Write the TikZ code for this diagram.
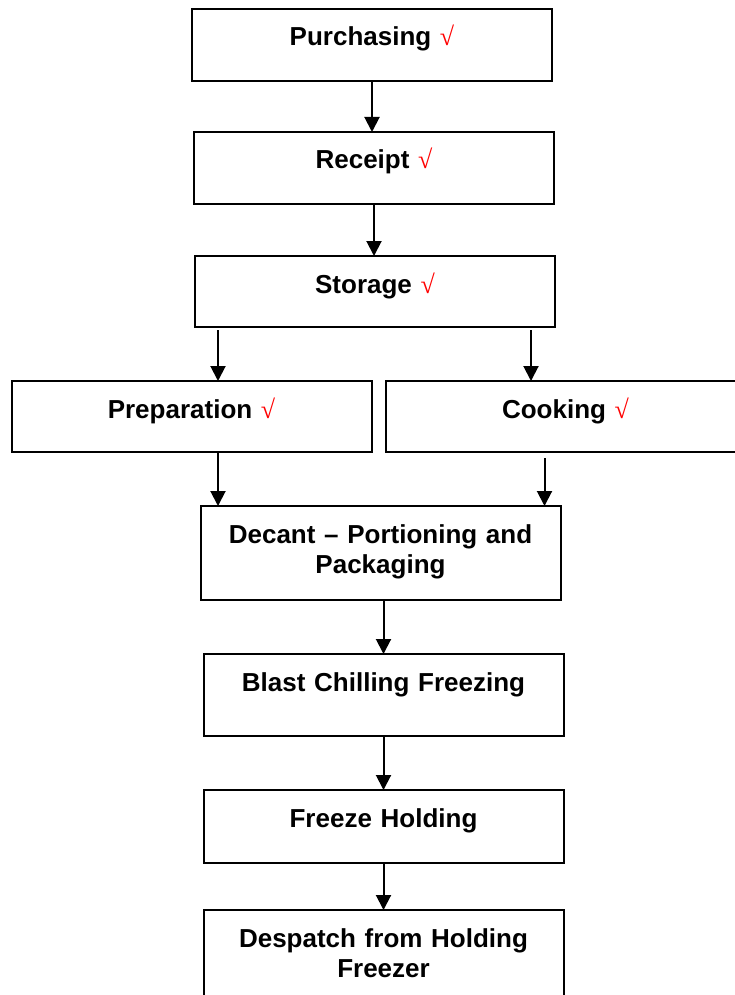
\documentclass[tikz,border=0pt]{standalone}
\usepackage{fontspec}
\setmainfont{Liberation Sans}
\newfontfamily\chkfont{Liberation Serif}
\usetikzlibrary{positioning, arrows.meta}
\newcommand{\okmark}{{\mdseries\chkfont\color{red}√}}

\begin{document}
\begin{tikzpicture}[
	x=1pt, y=-1pt,
	node distance = 52pt,
	arr/.style = {-{Triangle[width=15pt,length=15pt]}, line width=2pt},
	box/.style = {rectangle, draw, line width=2pt, inner sep=0pt, outer sep=0pt,
		text width=360pt, align=center, anchor=north,
		text height=37pt, text depth=#1,
		font=\fontsize{26}{30}\selectfont\bfseries}
	]
	\useasboundingbox (0,0) rectangle (734,995);
	
	\node (purch) [box=35pt] at (372,9) {Purchasing \okmark};
	\node (receipt) [box=35pt,below=51pt of purch,xshift=2pt] {Receipt \okmark};
	\node (storage) [box=34pt,below=of receipt,xshift=1pt] {Storage \okmark};
	\node (prep) [box=34pt,below=54pt of storage,xshift=-183.5pt] {Preparation \okmark};
	\node (cook) [box=34pt,right=14pt of prep] {Cooking \okmark};
	\node (decant) [box=57pt] at (380.5,506) {Decant -- Portioning and\\ Packaging};
	\node (blast) [box=45pt,below=54pt of decant,xshift=3pt] {Blast Chilling Freezing};
	\node (freeze) [box=36pt,below=54pt of blast] {Freeze Holding};
	\node (despatch) [box=73pt,below=47pt of freeze] {Despatch from Holding\\ Freezer};
	%
	\draw[arr] (purch.south) -- (purch.south |- receipt.north);
	\draw[arr] (receipt.south) -- (receipt.south |- storage.north);
	\draw[arr, shorten <=3pt] ([xshift=23pt]storage.south west) -- ([xshift=23pt]storage.south west |- prep.north);
	\draw[arr, shorten <=3pt] ([xshift=-24pt]storage.south east) -- ([xshift=-24pt]storage.south east |- cook.north);
	\draw[arr] ([xshift=26.5pt]prep.south) -- ([xshift=26.5pt]prep.south |- decant.north);
	\draw[arr, shorten <=6pt] ([xshift=159pt]cook.south west) -- ([xshift=159pt]cook.south west |- decant.north);
	\draw[arr] (decant.south -| blast.north) -- (blast.north);
	\draw[arr] (blast.south) -- (freeze.north);
	\draw[arr] (freeze.south) -- (despatch.north);
\end{tikzpicture}
\end{document}
